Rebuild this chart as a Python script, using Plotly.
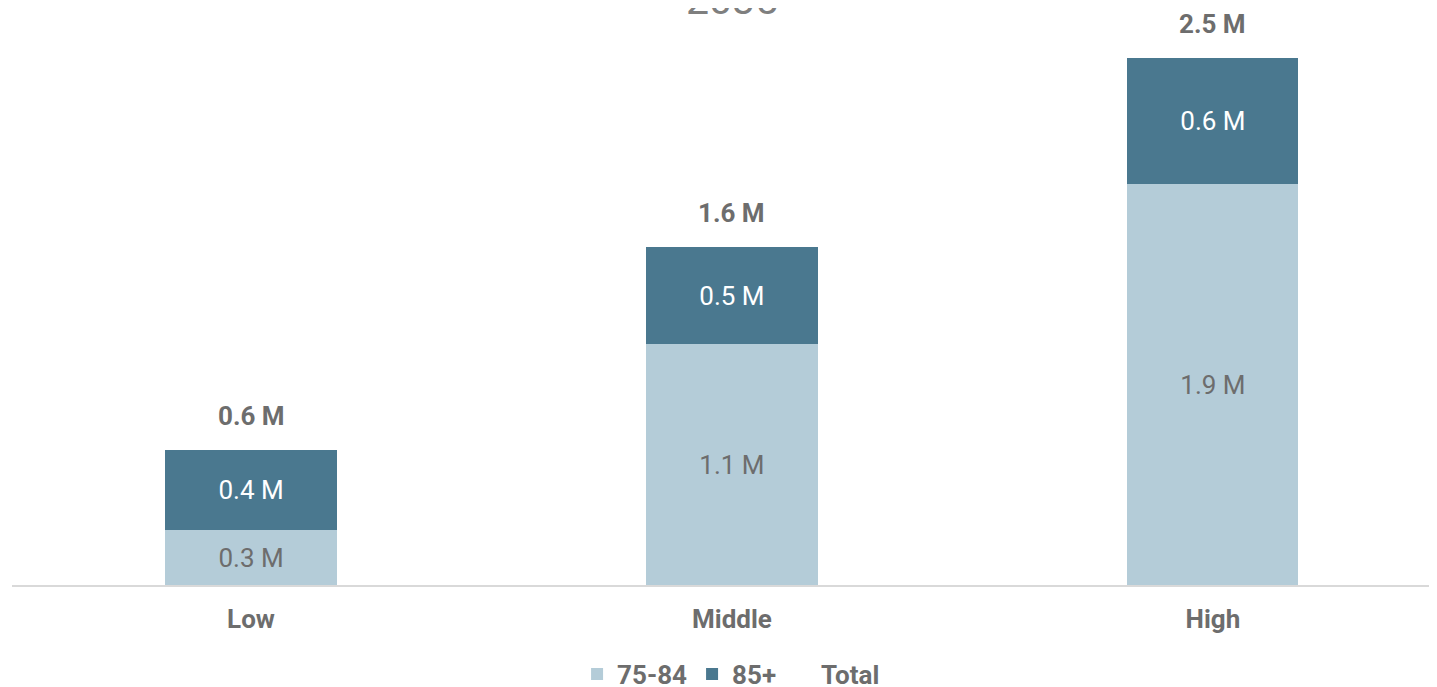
import plotly.graph_objects as go

categories = ["Low", "Middle", "High"]
age_75_84 = [0.26, 1.14, 1.90]
age_85_plus = [0.38, 0.46, 0.60]
totals = [a + b for a, b in zip(age_75_84, age_85_plus)]
title_text = "2035"

LIGHT = "#b4ccd8"
DARK = "#4a788f"
GRAY = "#6d6d6d"
FONT = "Roboto"

def fmt(v):
    return f"{v:.1f} M"

fig = go.Figure()
fig.add_trace(go.Bar(
    x=categories, y=age_75_84, name="75-84", marker_color=LIGHT,
    marker_line_width=0, width=0.356,
    text=[fmt(v) for v in age_75_84], textposition="inside",
    insidetextanchor="middle",
    textfont=dict(family=FONT, size=26, color=GRAY),
))
fig.add_trace(go.Bar(
    x=categories, y=age_85_plus, name="85+", marker_color=DARK,
    marker_line_width=0, width=0.356,
    text=[fmt(v) for v in age_85_plus], textposition="inside",
    insidetextanchor="middle",
    textfont=dict(family=FONT, size=26, color="white"),
))
fig.add_trace(go.Scatter(
    x=categories, y=totals, name="Total", mode="markers",
    marker=dict(color="rgba(0,0,0,0)", size=1), hoverinfo="skip",
))
for c, t in zip(categories, totals):
    fig.add_annotation(x=c, y=t, text=f"<b>{fmt(t)}</b>", showarrow=False,
                       yanchor="bottom", yshift=17,
                       font=dict(family=FONT, size=26, color=GRAY))

fig.add_annotation(text=title_text, xref="paper", yref="paper",
                   x=0.505, y=1.036, xanchor="center", yanchor="middle",
                   showarrow=False,
                   font=dict(family=FONT, size=41, color="#7f7f7f"))

fig.update_layout(
    barmode="stack",
    width=1429, height=679,
    margin=dict(l=4, r=0, t=12, b=102, autoexpand=False),
    plot_bgcolor="white", paper_bgcolor="white",
    xaxis=dict(range=[-0.497, 2.466], showline=True, linecolor="#d9d9d9",
               linewidth=2, ticks="outside", ticklen=10,
               tickcolor="rgba(0,0,0,0)",
               tickfont=dict(family=FONT, size=26, color=GRAY, weight="bold"),
               showgrid=False, zeroline=False, fixedrange=True),
    yaxis=dict(range=[0, 565 / 211], visible=False, showgrid=False,
               zeroline=False),
    legend=dict(orientation="h", xref="container", yref="container",
                x=0.506, xanchor="center", y=0.019,
                yanchor="middle", traceorder="normal",
                font=dict(family=FONT, size=26, color=GRAY, weight="bold"),
                itemwidth=30),
    showlegend=True,
)

fig.write_html("out.html")
